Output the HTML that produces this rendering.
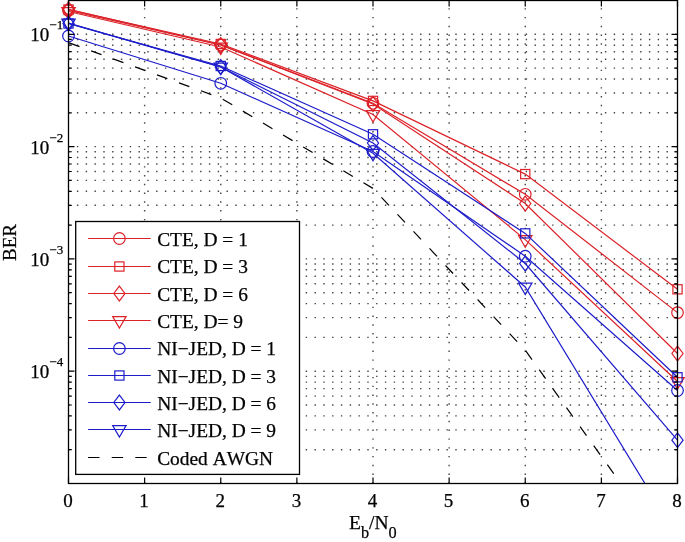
<!DOCTYPE html>
<html><head><meta charset="utf-8"><style>
html,body{margin:0;padding:0;background:#fff;}
body{width:685px;height:542px;position:relative;overflow:hidden;font-family:"Liberation Serif",serif;}
</style></head><body>
<svg width="685" height="542" viewBox="0 0 685 542" style="position:absolute;left:0;top:0">
<defs><clipPath id="ax"><rect x="68.5" y="0.0" width="609.0" height="483.5"/></clipPath></defs>
<g stroke="#444444" stroke-width="1.4" stroke-dasharray="1.4 7.4" fill="none"><line x1="68.1" y1="449.69" x2="677.5" y2="449.69"/><line x1="68.1" y1="429.92" x2="677.5" y2="429.92"/><line x1="68.1" y1="415.89" x2="677.5" y2="415.89"/><line x1="68.1" y1="405.01" x2="677.5" y2="405.01"/><line x1="68.1" y1="396.11" x2="677.5" y2="396.11"/><line x1="68.1" y1="388.60" x2="677.5" y2="388.60"/><line x1="68.1" y1="382.08" x2="677.5" y2="382.08"/><line x1="68.1" y1="376.34" x2="677.5" y2="376.34"/><line x1="68.1" y1="371.20" x2="677.5" y2="371.20"/><line x1="68.1" y1="337.40" x2="677.5" y2="337.40"/><line x1="68.1" y1="317.62" x2="677.5" y2="317.62"/><line x1="68.1" y1="303.59" x2="677.5" y2="303.59"/><line x1="68.1" y1="292.71" x2="677.5" y2="292.71"/><line x1="68.1" y1="283.82" x2="677.5" y2="283.82"/><line x1="68.1" y1="276.30" x2="677.5" y2="276.30"/><line x1="68.1" y1="269.79" x2="677.5" y2="269.79"/><line x1="68.1" y1="264.04" x2="677.5" y2="264.04"/><line x1="68.1" y1="258.90" x2="677.5" y2="258.90"/><line x1="68.1" y1="225.10" x2="677.5" y2="225.10"/><line x1="68.1" y1="205.32" x2="677.5" y2="205.32"/><line x1="68.1" y1="191.29" x2="677.5" y2="191.29"/><line x1="68.1" y1="180.41" x2="677.5" y2="180.41"/><line x1="68.1" y1="171.52" x2="677.5" y2="171.52"/><line x1="68.1" y1="164.00" x2="677.5" y2="164.00"/><line x1="68.1" y1="157.49" x2="677.5" y2="157.49"/><line x1="68.1" y1="151.74" x2="677.5" y2="151.74"/><line x1="68.1" y1="146.60" x2="677.5" y2="146.60"/><line x1="68.1" y1="112.80" x2="677.5" y2="112.80"/><line x1="68.1" y1="93.02" x2="677.5" y2="93.02"/><line x1="68.1" y1="78.99" x2="677.5" y2="78.99"/><line x1="68.1" y1="68.11" x2="677.5" y2="68.11"/><line x1="68.1" y1="59.22" x2="677.5" y2="59.22"/><line x1="68.1" y1="51.70" x2="677.5" y2="51.70"/><line x1="68.1" y1="45.19" x2="677.5" y2="45.19"/><line x1="68.1" y1="39.44" x2="677.5" y2="39.44"/><line x1="68.1" y1="34.31" x2="677.5" y2="34.31"/></g>
<g stroke="#444444" stroke-width="1.4" stroke-dasharray="1.4 7.38" fill="none"><line x1="144.62" y1="-0.6" x2="144.62" y2="483.5"/><line x1="220.75" y1="-0.6" x2="220.75" y2="483.5"/><line x1="296.88" y1="-0.6" x2="296.88" y2="483.5"/><line x1="373.00" y1="-0.6" x2="373.00" y2="483.5"/><line x1="449.12" y1="-0.6" x2="449.12" y2="483.5"/><line x1="525.25" y1="-0.6" x2="525.25" y2="483.5"/><line x1="601.38" y1="-0.6" x2="601.38" y2="483.5"/></g>
<polyline clip-path="url(#ax)" points="68.50,10.50 220.75,45.00 373.00,103.30 525.25,194.30 677.50,312.60" fill="none" stroke="#dc2228" stroke-width="1.2"/>
<circle cx="68.50" cy="10.50" r="5.8" fill="none" stroke="#dc2228" stroke-width="1.2"/>
<circle cx="220.75" cy="45.00" r="5.8" fill="none" stroke="#dc2228" stroke-width="1.2"/>
<circle cx="373.00" cy="103.30" r="5.8" fill="none" stroke="#dc2228" stroke-width="1.2"/>
<circle cx="525.25" cy="194.30" r="5.8" fill="none" stroke="#dc2228" stroke-width="1.2"/>
<circle cx="677.50" cy="312.60" r="5.8" fill="none" stroke="#dc2228" stroke-width="1.2"/>
<polyline clip-path="url(#ax)" points="68.50,9.50 220.75,44.00 373.00,100.90 525.25,174.10 677.50,289.30" fill="none" stroke="#dc2228" stroke-width="1.2"/>
<rect x="63.90" y="4.90" width="9.20" height="9.20" fill="none" stroke="#dc2228" stroke-width="1.2"/>
<rect x="216.15" y="39.40" width="9.20" height="9.20" fill="none" stroke="#dc2228" stroke-width="1.2"/>
<rect x="368.40" y="96.30" width="9.20" height="9.20" fill="none" stroke="#dc2228" stroke-width="1.2"/>
<rect x="520.65" y="169.50" width="9.20" height="9.20" fill="none" stroke="#dc2228" stroke-width="1.2"/>
<rect x="672.90" y="284.70" width="9.20" height="9.20" fill="none" stroke="#dc2228" stroke-width="1.2"/>
<polyline clip-path="url(#ax)" points="68.50,9.30 220.75,45.00 373.00,104.00 525.25,203.50 677.50,353.50" fill="none" stroke="#dc2228" stroke-width="1.2"/>
<path d="M68.50,1.90L74.10,9.30L68.50,16.70L62.90,9.30Z" fill="none" stroke="#dc2228" stroke-width="1.2"/>
<path d="M220.75,37.60L226.35,45.00L220.75,52.40L215.15,45.00Z" fill="none" stroke="#dc2228" stroke-width="1.2"/>
<path d="M373.00,96.60L378.60,104.00L373.00,111.40L367.40,104.00Z" fill="none" stroke="#dc2228" stroke-width="1.2"/>
<path d="M525.25,196.10L530.85,203.50L525.25,210.90L519.65,203.50Z" fill="none" stroke="#dc2228" stroke-width="1.2"/>
<path d="M677.50,346.10L683.10,353.50L677.50,360.90L671.90,353.50Z" fill="none" stroke="#dc2228" stroke-width="1.2"/>
<polyline clip-path="url(#ax)" points="68.50,11.50 220.75,47.00 373.00,114.50 525.25,239.60 677.50,381.50" fill="none" stroke="#dc2228" stroke-width="1.2"/>
<path d="M61.80,7.60L75.20,7.60L68.50,19.10Z" fill="none" stroke="#dc2228" stroke-width="1.2"/>
<path d="M214.05,43.10L227.45,43.10L220.75,54.60Z" fill="none" stroke="#dc2228" stroke-width="1.2"/>
<path d="M366.30,110.60L379.70,110.60L373.00,122.10Z" fill="none" stroke="#dc2228" stroke-width="1.2"/>
<path d="M518.55,235.70L531.95,235.70L525.25,247.20Z" fill="none" stroke="#dc2228" stroke-width="1.2"/>
<path d="M670.80,377.60L684.20,377.60L677.50,389.10Z" fill="none" stroke="#dc2228" stroke-width="1.2"/>
<polyline clip-path="url(#ax)" points="68.50,36.00 220.75,83.30 373.00,151.50 525.25,256.20 677.50,390.50" fill="none" stroke="#1c1cca" stroke-width="1.2"/>
<circle cx="68.50" cy="36.00" r="5.8" fill="none" stroke="#1c1cca" stroke-width="1.2"/>
<circle cx="220.75" cy="83.30" r="5.8" fill="none" stroke="#1c1cca" stroke-width="1.2"/>
<circle cx="373.00" cy="151.50" r="5.8" fill="none" stroke="#1c1cca" stroke-width="1.2"/>
<circle cx="525.25" cy="256.20" r="5.8" fill="none" stroke="#1c1cca" stroke-width="1.2"/>
<circle cx="677.50" cy="390.50" r="5.8" fill="none" stroke="#1c1cca" stroke-width="1.2"/>
<polyline clip-path="url(#ax)" points="68.50,23.50 220.75,66.00 373.00,134.30 525.25,233.40 677.50,377.30" fill="none" stroke="#1c1cca" stroke-width="1.2"/>
<rect x="63.90" y="18.90" width="9.20" height="9.20" fill="none" stroke="#1c1cca" stroke-width="1.2"/>
<rect x="216.15" y="61.40" width="9.20" height="9.20" fill="none" stroke="#1c1cca" stroke-width="1.2"/>
<rect x="368.40" y="129.70" width="9.20" height="9.20" fill="none" stroke="#1c1cca" stroke-width="1.2"/>
<rect x="520.65" y="228.80" width="9.20" height="9.20" fill="none" stroke="#1c1cca" stroke-width="1.2"/>
<rect x="672.90" y="372.70" width="9.20" height="9.20" fill="none" stroke="#1c1cca" stroke-width="1.2"/>
<polyline clip-path="url(#ax)" points="68.50,23.50 220.75,67.00 373.00,143.00 525.25,263.50 677.50,440.20" fill="none" stroke="#1c1cca" stroke-width="1.2"/>
<path d="M68.50,16.10L74.10,23.50L68.50,30.90L62.90,23.50Z" fill="none" stroke="#1c1cca" stroke-width="1.2"/>
<path d="M220.75,59.60L226.35,67.00L220.75,74.40L215.15,67.00Z" fill="none" stroke="#1c1cca" stroke-width="1.2"/>
<path d="M373.00,135.60L378.60,143.00L373.00,150.40L367.40,143.00Z" fill="none" stroke="#1c1cca" stroke-width="1.2"/>
<path d="M525.25,256.10L530.85,263.50L525.25,270.90L519.65,263.50Z" fill="none" stroke="#1c1cca" stroke-width="1.2"/>
<path d="M677.50,432.80L683.10,440.20L677.50,447.60L671.90,440.20Z" fill="none" stroke="#1c1cca" stroke-width="1.2"/>
<polyline clip-path="url(#ax)" points="68.50,23.00 220.75,67.00 373.00,153.30 525.25,287.00 677.50,537.00" fill="none" stroke="#1c1cca" stroke-width="1.2"/>
<path d="M61.80,19.10L75.20,19.10L68.50,30.60Z" fill="none" stroke="#1c1cca" stroke-width="1.2"/>
<path d="M214.05,63.10L227.45,63.10L220.75,74.60Z" fill="none" stroke="#1c1cca" stroke-width="1.2"/>
<path d="M366.30,149.40L379.70,149.40L373.00,160.90Z" fill="none" stroke="#1c1cca" stroke-width="1.2"/>
<path d="M518.55,283.10L531.95,283.10L525.25,294.60Z" fill="none" stroke="#1c1cca" stroke-width="1.2"/>
<polyline clip-path="url(#ax)" points="68.50,42.60 220.75,98.00 373.00,188.40 525.25,350.20 677.50,562.50" fill="none" stroke="#000" stroke-width="1.2" stroke-dasharray="11 12.38" stroke-dashoffset="-0.7"/>
<rect x="68.5" y="0.5" width="609.00" height="483.00" fill="none" stroke="#000" stroke-width="1.3"/><path d="M68.50,483.5v-6M68.50,0.5v6M144.62,483.5v-6M144.62,0.5v6M220.75,483.5v-6M220.75,0.5v6M296.88,483.5v-6M296.88,0.5v6M373.00,483.5v-6M373.00,0.5v6M449.12,483.5v-6M449.12,0.5v6M525.25,483.5v-6M525.25,0.5v6M601.38,483.5v-6M601.38,0.5v6M677.50,483.5v-6M677.50,0.5v6M68.5,483.50h6M677.5,483.50h-6M68.5,449.69h3.3M677.5,449.69h-3.3M68.5,429.92h3.3M677.5,429.92h-3.3M68.5,415.89h3.3M677.5,415.89h-3.3M68.5,405.01h3.3M677.5,405.01h-3.3M68.5,396.11h3.3M677.5,396.11h-3.3M68.5,388.60h3.3M677.5,388.60h-3.3M68.5,382.08h3.3M677.5,382.08h-3.3M68.5,376.34h3.3M677.5,376.34h-3.3M68.5,371.20h6M677.5,371.20h-6M68.5,337.40h3.3M677.5,337.40h-3.3M68.5,317.62h3.3M677.5,317.62h-3.3M68.5,303.59h3.3M677.5,303.59h-3.3M68.5,292.71h3.3M677.5,292.71h-3.3M68.5,283.82h3.3M677.5,283.82h-3.3M68.5,276.30h3.3M677.5,276.30h-3.3M68.5,269.79h3.3M677.5,269.79h-3.3M68.5,264.04h3.3M677.5,264.04h-3.3M68.5,258.90h6M677.5,258.90h-6M68.5,225.10h3.3M677.5,225.10h-3.3M68.5,205.32h3.3M677.5,205.32h-3.3M68.5,191.29h3.3M677.5,191.29h-3.3M68.5,180.41h3.3M677.5,180.41h-3.3M68.5,171.52h3.3M677.5,171.52h-3.3M68.5,164.00h3.3M677.5,164.00h-3.3M68.5,157.49h3.3M677.5,157.49h-3.3M68.5,151.74h3.3M677.5,151.74h-3.3M68.5,146.60h6M677.5,146.60h-6M68.5,112.80h3.3M677.5,112.80h-3.3M68.5,93.02h3.3M677.5,93.02h-3.3M68.5,78.99h3.3M677.5,78.99h-3.3M68.5,68.11h3.3M677.5,68.11h-3.3M68.5,59.22h3.3M677.5,59.22h-3.3M68.5,51.70h3.3M677.5,51.70h-3.3M68.5,45.19h3.3M677.5,45.19h-3.3M68.5,39.44h3.3M677.5,39.44h-3.3M68.5,34.31h6M677.5,34.31h-6M68.5,0.50h3.3M677.5,0.50h-3.3" stroke="#000" stroke-width="1.2" fill="none"/>
<rect x="75.7" y="221.5" width="223.80" height="252.90" fill="#fff" stroke="#000" stroke-width="1.3"/>
<line x1="88.1" y1="238.50" x2="150.7" y2="238.50" stroke="#dc2228" stroke-width="1.2"/>
<circle cx="119.40" cy="238.50" r="5.8" fill="none" stroke="#dc2228" stroke-width="1.2"/>
<line x1="88.1" y1="266.50" x2="150.7" y2="266.50" stroke="#dc2228" stroke-width="1.2"/>
<rect x="114.80" y="261.90" width="9.20" height="9.20" fill="none" stroke="#dc2228" stroke-width="1.2"/>
<line x1="88.1" y1="293.50" x2="150.7" y2="293.50" stroke="#dc2228" stroke-width="1.2"/>
<path d="M119.40,286.10L125.00,293.50L119.40,300.90L113.80,293.50Z" fill="none" stroke="#dc2228" stroke-width="1.2"/>
<line x1="88.1" y1="320.50" x2="150.7" y2="320.50" stroke="#dc2228" stroke-width="1.2"/>
<path d="M112.70,316.60L126.10,316.60L119.40,328.10Z" fill="none" stroke="#dc2228" stroke-width="1.2"/>
<line x1="88.1" y1="348.50" x2="150.7" y2="348.50" stroke="#1c1cca" stroke-width="1.2"/>
<circle cx="119.40" cy="348.50" r="5.8" fill="none" stroke="#1c1cca" stroke-width="1.2"/>
<line x1="88.1" y1="375.50" x2="150.7" y2="375.50" stroke="#1c1cca" stroke-width="1.2"/>
<rect x="114.80" y="370.90" width="9.20" height="9.20" fill="none" stroke="#1c1cca" stroke-width="1.2"/>
<line x1="88.1" y1="402.50" x2="150.7" y2="402.50" stroke="#1c1cca" stroke-width="1.2"/>
<path d="M119.40,395.10L125.00,402.50L119.40,409.90L113.80,402.50Z" fill="none" stroke="#1c1cca" stroke-width="1.2"/>
<line x1="88.1" y1="429.50" x2="150.7" y2="429.50" stroke="#1c1cca" stroke-width="1.2"/>
<path d="M112.70,425.60L126.10,425.60L119.40,437.10Z" fill="none" stroke="#1c1cca" stroke-width="1.2"/>
<line x1="88.1" y1="457.50" x2="150.7" y2="457.50" stroke="#000" stroke-width="1.2" stroke-dasharray="11.4 12.2"/>
</svg>
<svg width="685" height="542" font-family="Liberation Serif, serif" fill="#000" stroke="#000" stroke-width="0.25" style="position:absolute;left:0;top:0;will-change:transform;font-kerning:none;font-feature-settings:&quot;kern&quot; 0"><text x="68.00" y="506.80" font-size="19" text-anchor="middle" >0</text><text x="144.12" y="506.80" font-size="19" text-anchor="middle" >1</text><text x="220.25" y="506.80" font-size="19" text-anchor="middle" >2</text><text x="296.38" y="506.80" font-size="19" text-anchor="middle" >3</text><text x="372.50" y="506.80" font-size="19" text-anchor="middle" >4</text><text x="448.62" y="506.80" font-size="19" text-anchor="middle" >5</text><text x="524.75" y="506.80" font-size="19" text-anchor="middle" >6</text><text x="600.88" y="506.80" font-size="19" text-anchor="middle" >7</text><text x="677.00" y="506.80" font-size="19" text-anchor="middle" >8</text><text x="63.2" y="41.41" font-size="19" text-anchor="end">10<tspan font-size="13" dy="-12">−1</tspan></text><text x="63.2" y="153.70" font-size="19" text-anchor="end">10<tspan font-size="13" dy="-12">−2</tspan></text><text x="63.2" y="266.00" font-size="19" text-anchor="end">10<tspan font-size="13" dy="-12">−3</tspan></text><text x="63.2" y="378.30" font-size="19" text-anchor="end">10<tspan font-size="13" dy="-12">−4</tspan></text><text x="157.20" y="245.80" font-size="19.4" text-anchor="start" >CTE, D = 1</text><text x="157.20" y="273.15" font-size="19.4" text-anchor="start" >CTE, D = 3</text><text x="157.20" y="300.50" font-size="19.4" text-anchor="start" >CTE, D = 6</text><text x="157.20" y="327.85" font-size="19.4" text-anchor="start" >CTE, D= 9</text><text x="157.20" y="355.20" font-size="19.4" text-anchor="start" >NI−JED, D = 1</text><text x="157.20" y="382.55" font-size="19.4" text-anchor="start" >NI−JED, D = 3</text><text x="157.20" y="409.90" font-size="19.4" text-anchor="start" >NI−JED, D = 6</text><text x="157.20" y="437.25" font-size="19.4" text-anchor="start" >NI−JED, D = 9</text><text x="157.20" y="464.60" font-size="19.4" text-anchor="start" >Coded AWGN</text><text transform="translate(16,242.5) rotate(-90)" font-size="19" text-anchor="middle">BER</text><text x="349" y="528.9" font-size="19.5">E<tspan font-size="16.3" dy="9">b</tspan><tspan dy="-9">/N</tspan><tspan font-size="16.3" dy="9">0</tspan></text></svg>
</body></html>
